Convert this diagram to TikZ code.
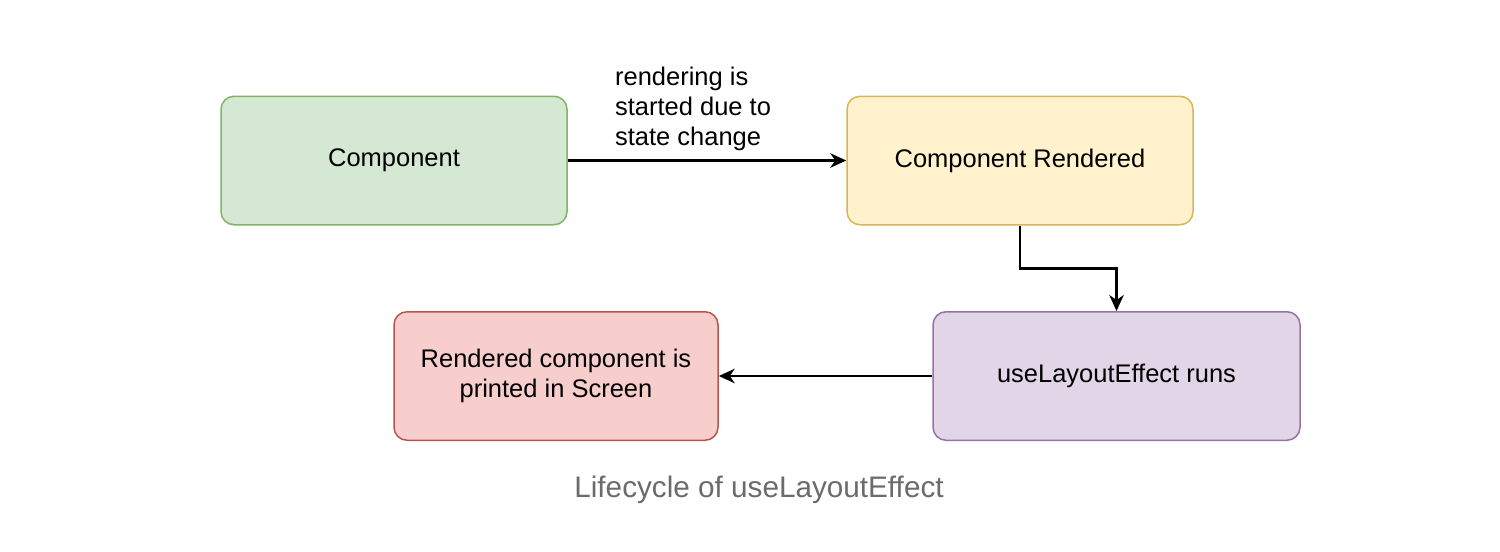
\documentclass[tikz,border=0pt]{standalone}
\usepackage{fontspec}
\setmainfont{Liberation Sans}
\usetikzlibrary{arrows.meta}

\definecolor{grfill}{HTML}{D5E8D4}\definecolor{grline}{HTML}{82B366}
\definecolor{yefill}{HTML}{FFF2CC}\definecolor{yeline}{HTML}{D6B656}
\definecolor{pufill}{HTML}{E1D5E7}\definecolor{puline}{HTML}{9673A6}
\definecolor{refill}{HTML}{F8CECC}\definecolor{reline}{HTML}{B85450}
\definecolor{capgray}{HTML}{6B6B6B}

\begin{document}
\begin{tikzpicture}[auto,
  font=\fontsize{14.5}{17}\selectfont,
  box/.style = {draw,rounded corners=0.26cm,line width=0.85pt,
        align=center,minimum height=2.57cm},
  flow/.style = {line width=1.2pt,-{Stealth[length=3.2mm,width=2.9mm,inset=1mm]}}]
 \useasboundingbox (0,0) rectangle (30,-11.02);
 \node[box,fill=grfill,draw=grline,minimum width=6.92cm] (comp) at (7.88,-3.21) {Component};
 \node[box,fill=yefill,draw=yeline,minimum width=6.92cm] (rend) at (20.40,-3.21) {Component Rendered};
 \node[box,fill=pufill,draw=puline,minimum width=7.34cm] (ule)  at (22.33,-7.52) {useLayoutEffect runs};
 \node[box,fill=refill,draw=reline,minimum width=6.48cm] (prt)  at (11.12,-7.52) {Rendered component is\\printed in Screen};
 \node[text=capgray,font=\fontsize{16.9}{20}\selectfont] (cap) at (15.18,-9.80) {Lifecycle of useLayoutEffect};
 \begin{scope}[flow]
  \draw (comp) -- node[pos=0.45,align=left,inner sep=5pt] {rendering is\\started due to\\state change} (rend);
  \draw (rend.south) -- ++(0,-0.86) -| (ule.north);
  \draw (ule) -- (prt);
 \end{scope}
\end{tikzpicture}
\end{document}
